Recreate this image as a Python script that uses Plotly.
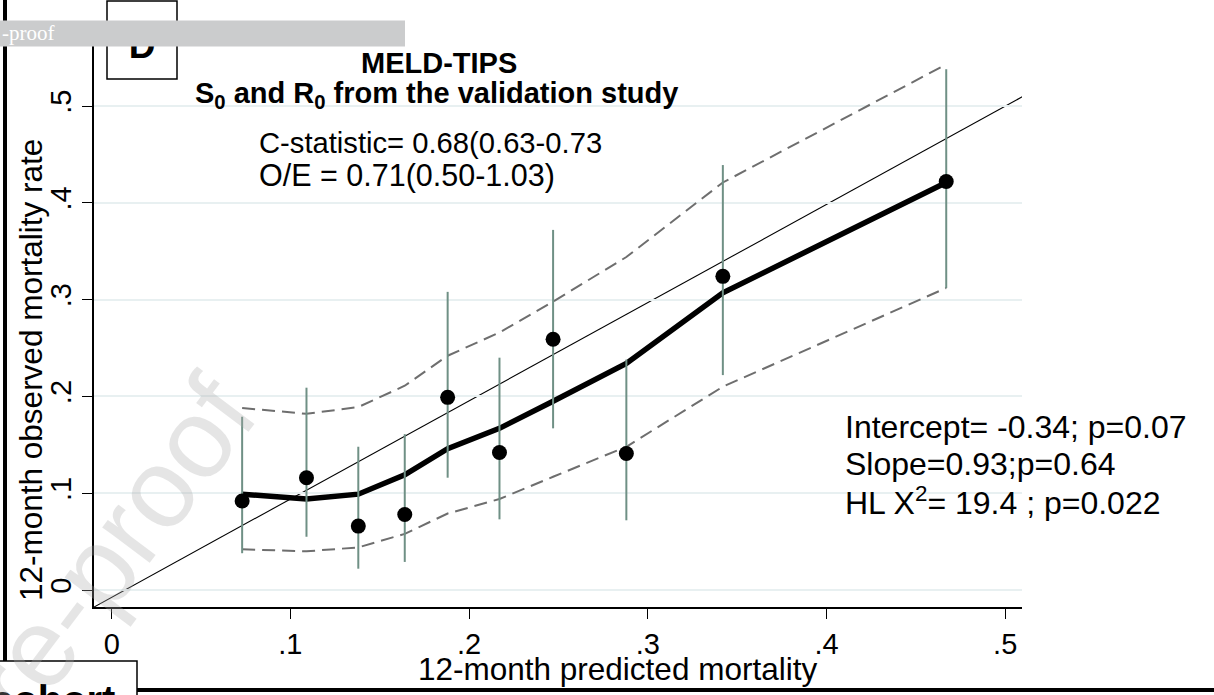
import plotly.graph_objects as go

# Calibration groups (deciles of predicted risk)
pred_mort = [0.073, 0.109, 0.138, 0.164, 0.188, 0.217, 0.247, 0.288, 0.342, 0.467]
obs_mort = [0.092, 0.116, 0.066, 0.078, 0.199, 0.142, 0.259, 0.141, 0.324, 0.422]
obs_ci_low = [0.038, 0.055, 0.022, 0.029, 0.116, 0.073, 0.167, 0.072, 0.222, 0.312]
obs_ci_high = [0.179, 0.209, 0.148, 0.161, 0.308, 0.240, 0.372, 0.238, 0.439, 0.538]

# Smoothed calibration curve and its confidence band
smooth_fit = [0.099, 0.094, 0.099, 0.119, 0.146, 0.167, 0.195, 0.234, 0.307, 0.421]
smooth_low = [0.042, 0.040, 0.044, 0.058, 0.079, 0.094, 0.117, 0.148, 0.210, 0.312]
smooth_high = [0.188, 0.182, 0.189, 0.211, 0.242, 0.266, 0.298, 0.344, 0.421, 0.543]

# Line of perfect calibration
ref_x = [-0.0099, 0.513]
ref_y = [-0.0176, 0.513]

x_ticks = [0, 0.1, 0.2, 0.3, 0.4, 0.5]
x_tick_labels = ["0", ".1", ".2", ".3", ".4", ".5"]
y_ticks = [0, 0.1, 0.2, 0.3, 0.4, 0.5]
y_tick_labels = ["0", ".1", ".2", ".3", ".4", ".5"]

W, H = 1214, 695
L, R, T, B = 94, 1022, 34, 607
SANS = "Liberation Sans, Arial, Helvetica, sans-serif"
SERIF = "Liberation Serif, Times New Roman, serif"
FS = 29
Y_PER_UNIT = 968.0
Y_ZERO_PX = 590.0


def px(x):
    return (x - L) / (R - L)


def py(y):
    return (B - y) / (B - T)


def note(text, x, y, size=FS, xanchor="left", angle=0, color="black", family=SANS):
    return dict(text=text, x=px(x), y=py(y), xref="paper", yref="paper",
                xanchor=xanchor, yanchor="middle", textangle=angle,
                font=dict(family=family, size=size, color=color), showarrow=False)


fig = go.Figure()

# confidence band of the smoothed curve
for band in (smooth_low, smooth_high):
    fig.add_trace(go.Scatter(
        x=pred_mort, y=band, mode="lines",
        line=dict(color="#6e6e6e", width=2, dash="13px,7px"),
        hoverinfo="skip", showlegend=False))

# smoothed curve
fig.add_trace(go.Scatter(
    x=pred_mort, y=smooth_fit, mode="lines",
    line=dict(color="black", width=5.5),
    showlegend=False))

# 95% CI spikes of observed mortality
spike_x, spike_y = [], []
for xv, lo, hi in zip(pred_mort, obs_ci_low, obs_ci_high):
    spike_x += [xv, xv, None]
    spike_y += [lo, hi, None]
fig.add_trace(go.Scatter(
    x=spike_x, y=spike_y, mode="lines",
    line=dict(color="#6f9085", width=2),
    hoverinfo="skip", showlegend=False))

# observed mortality per group
fig.add_trace(go.Scatter(
    x=pred_mort, y=obs_mort, mode="markers",
    marker=dict(color="black", size=15),
    showlegend=False))

shapes = [
    # diagonal reference line
    dict(type="line", xref="x", yref="y", x0=ref_x[0], y0=ref_y[0],
         x1=ref_x[1], y1=ref_y[1], line=dict(color="black", width=1.1),
         layer="below"),
    # panel frame pieces
    dict(type="line", xref="paper", yref="paper", x0=px(5), x1=px(5),
         y0=py(-2), y1=py(661), line=dict(color="black", width=4)),
    dict(type="line", xref="paper", yref="paper", x0=px(136), x1=px(1216),
         y0=py(690), y1=py(690), line=dict(color="black", width=4)),
    dict(type="rect", xref="paper", yref="paper", x0=px(-5), x1=px(137),
         y0=py(700), y1=py(661), line=dict(color="black", width=1.5),
         fillcolor="white"),
    # panel letter box
    dict(type="rect", xref="paper", yref="paper", x0=px(107), x1=px(177),
         y0=py(79), y1=py(1), line=dict(color="black", width=1.5),
         fillcolor="white"),
    dict(type="rect", xref="paper", yref="paper", x0=px(107), x1=px(177),
         y0=py(66), y1=py(16), line=dict(width=0), fillcolor="rgba(0,0,0,0)",
         label=dict(text="D", textposition="middle center",
                    font=dict(family=SANS, size=37, color="black", weight="bold"))),
    # banner strip across the top
    dict(type="rect", xref="paper", yref="paper", x0=px(-5), x1=px(405),
         y0=py(46.5), y1=py(20.5), line=dict(width=0), fillcolor="#cbcccd"),
]

annotations = [
    note("-proof", 0, 33, size=21, xanchor="left", color="white", family=SERIF),
    note("<b>cohort</b>", 117, 700, size=40, xanchor="right"),
    # faint diagonal watermark
    note("re-proof", 112, 548, size=112, xanchor="center", angle=-53,
         color="rgba(170,170,170,0.30)"),
    # titles and statistics
    note("<b>MELD-TIPS</b>", 439, 63, xanchor="center"),
    note("<b>S<sub>0</sub> and R<sub>0</sub> from the validation study</b>", 193, 95),
    note("C-statistic= 0.68(0.63-0.73", 257, 143, size=29.2),
    note("O/E = 0.71(0.50-1.03)", 257, 175, size=30.5),
    note("Intercept= -0.34; p=0.07", 843, 427, size=32),
    note("Slope=0.93;p=0.64", 843, 464, size=32),
    note("HL X<sup>2</sup>= 19.4 ; p=0.022", 843, 501, size=32),
    # axis titles
    note("12-month predicted mortality", 617, 669, size=31.5, xanchor="center"),
    note("12-month observed mortality rate", 31, 370, size=31.5, xanchor="center", angle=-90),
]

fig.update_layout(
    width=W, height=H, autosize=False,
    margin=dict(l=L, r=W - R, t=T, b=H - B, pad=0),
    paper_bgcolor="white", plot_bgcolor="white",
    showlegend=False,
    shapes=shapes, annotations=annotations,
    xaxis=dict(
        range=[-0.0099, 0.5094], tickvals=x_ticks, ticktext=x_tick_labels,
        showgrid=False, zeroline=False, showline=True, linecolor="black", linewidth=1.5,
        ticks="outside", ticklen=10, tickwidth=1.3, tickcolor="black",
        tickfont=dict(family=SANS, size=FS, color="black"),
    ),
    yaxis=dict(
        range=[(Y_ZERO_PX - B) / Y_PER_UNIT, (Y_ZERO_PX - T) / Y_PER_UNIT],
        tickvals=y_ticks, ticktext=y_tick_labels,
        tickangle=-90,
        showgrid=True, gridcolor="#e8f0f1", gridwidth=1.5,
        zeroline=False, showline=True, linecolor="black", linewidth=1.5,
        ticks="outside", ticklen=10, tickwidth=1.3, tickcolor="black",
        tickfont=dict(family=SANS, size=FS, color="black"),
    ),
)

fig.write_html("out.html")
